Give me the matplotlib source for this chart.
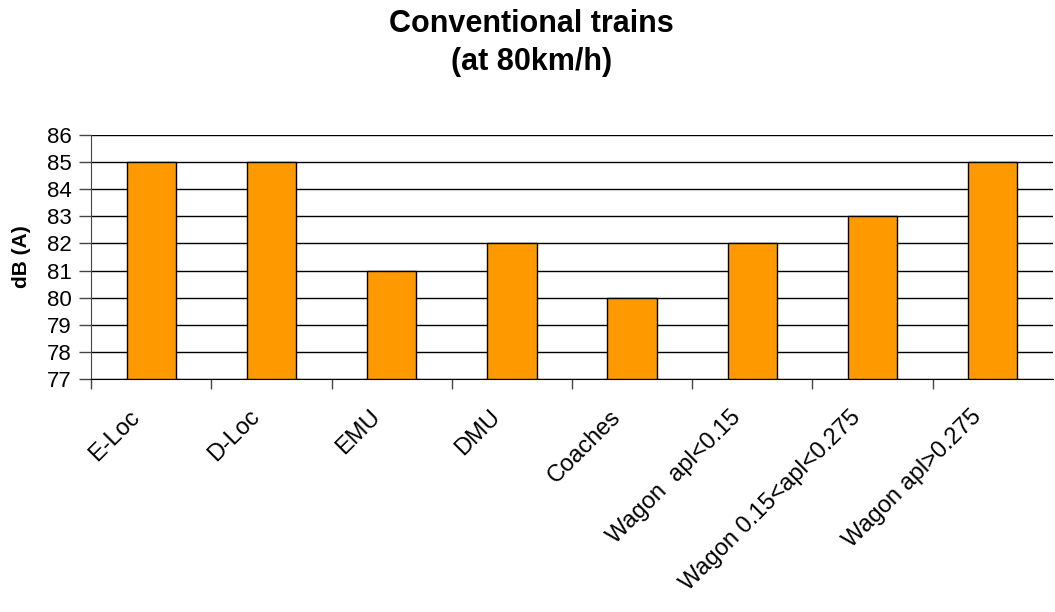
import numpy as np
import matplotlib.pyplot as plt
from matplotlib.transforms import ScaledTranslation

categories = ["E-Loc", "D-Loc", "EMU", "DMU", "Coaches",
              "Wagon  apl<0.15", "Wagon 0.15<apl<0.275", "Wagon apl>0.275"]
values = [85, 85, 81, 82, 80, 82, 83, 85]

plt.rcParams['font.family'] = ['Liberation Sans', 'DejaVu Sans']

fig = plt.figure(figsize=(10.55, 6.12), dpi=100)
ax = fig.add_axes([0.0863, 0.3807, 0.9117, 0.3987])

x = np.arange(len(categories))
bottom = 77
ax.bar(x, np.array(values) - bottom, bottom=bottom, width=0.41,
       color='#FF9900', edgecolor='black', linewidth=1, zorder=3)

ax.set_ylim(77, 86)
ax.set_xlim(-0.5, len(categories) - 0.5)
ax.set_yticks(np.arange(77, 87, 1))
ax.yaxis.grid(True, color='black', linewidth=1, zorder=0)

# tick marks on the category boundaries, labels at the centres
ax.set_xticks(np.arange(-0.5, len(categories) - 0.5, 1))
ax.set_xticklabels([])
ax.set_xticks(x, minor=True)
ax.set_xticklabels(categories, minor=True, rotation=45, ha='right',
                   va='center', rotation_mode='anchor', fontsize=17)
ax.tick_params(axis='x', which='minor', length=0, pad=25)
ax.tick_params(axis='x', which='major', length=7, color='#444444', width=1)
ax.tick_params(axis='y', length=9, width=1, labelsize=16, pad=5,
               color='#444444')
shift = ScaledTranslation(-15 / 100, 0, fig.dpi_scale_trans)
for lab in ax.get_xticklabels(minor=True):
    lab.set_transform(lab.get_transform() + shift)

for s in ['top', 'right']:
    ax.spines[s].set_visible(False)
ax.spines['left'].set_color('#444444')
ax.spines['bottom'].set_color('black')

ax.set_ylabel("dB (A)", fontsize=15, fontweight='bold')
ax.yaxis.set_label_coords(-0.062, 0.5)
fig.text(0.504, 0.93, "Conventional trains\n(at 80km/h)", ha='center',
         va='center', fontsize=22, fontweight='bold', linespacing=1.35)

fig.savefig("out.png", dpi=100)
